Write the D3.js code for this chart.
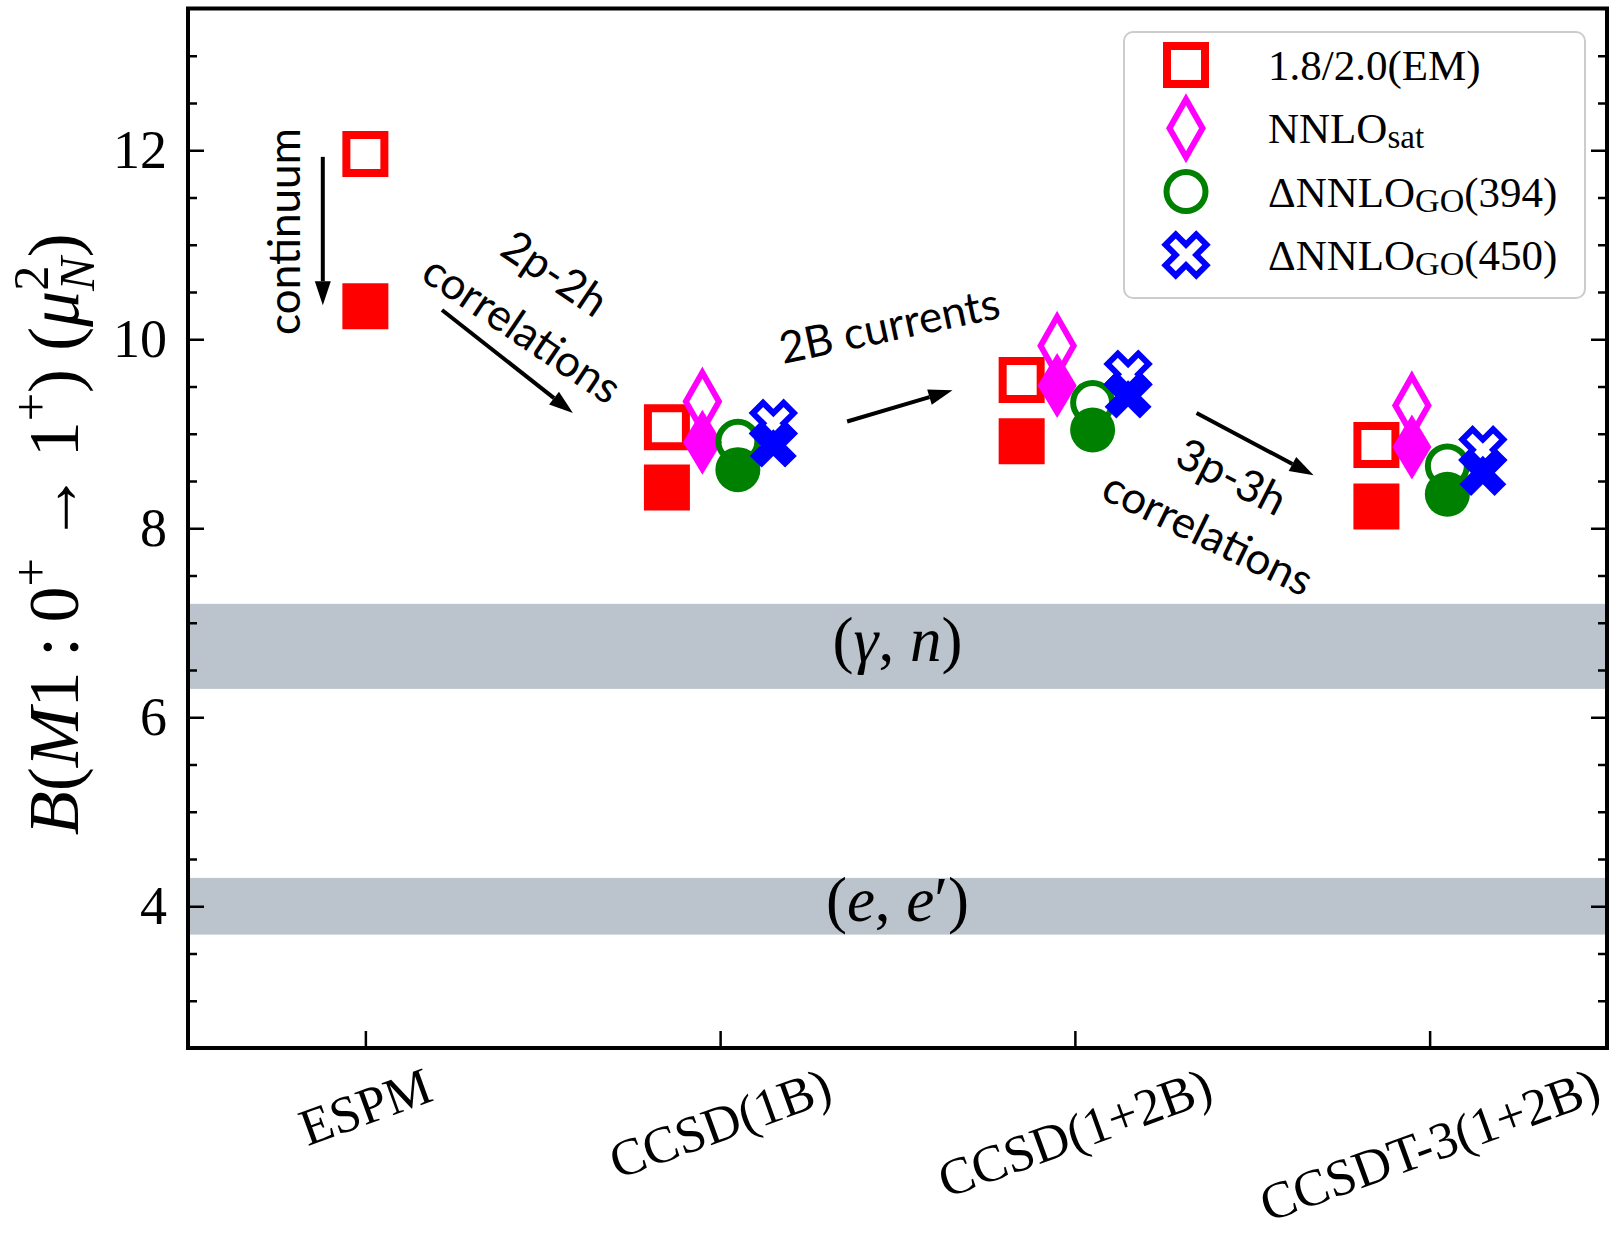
<!DOCTYPE html>
<html><head><meta charset="utf-8">
<script src="https://cdn.jsdelivr.net/npm/d3@7"></script>
<style>body{margin:0;background:#fff}</style>
</head><body>
<svg id="c" width="1619" height="1233" xmlns="http://www.w3.org/2000/svg"></svg>
<script>
// ---------------- data ----------------
const categories = ["ESPM", "CCSD(1B)", "CCSD(1+2B)", "CCSDT-3(1+2B)"];
const seriesKeys = ["em", "sat", "go394", "go450"];
const seriesColors = ["#ff0000", "#ff00ff", "#008000", "#0000ff"];
const seriesShapes = ["square", "diamond", "circle", "cross"];
// open / filled marker values per category (null = not computed)
const em_open      = [11.96, 9.07, 9.57, 8.88];
const em_filled    = [10.35, 8.43, 8.92, 8.23];
const sat_open     = [null, 9.34, 9.93, 9.30];
const sat_filled   = [null, 8.91, 9.51, 8.86];
const go394_open   = [null, 8.92, 9.33, 8.66];
const go394_filled = [null, 8.62, 9.04, 8.36];
const go450_open   = [null, 9.11, 9.63, 8.83];
const go450_filled = [null, 8.89, 9.41, 8.59];
const yTicks = [4, 6, 8, 10, 12];
const yMinorTicks = [3, 3.5, 4.5, 5, 5.5, 6.5, 7, 7.5, 8.5, 9, 9.5, 10.5, 11, 11.5, 12.5, 13];
const bandLo = [6.3, 3.7];
const bandHi = [7.2, 4.3];

const openVals = {em: em_open, sat: sat_open, go394: go394_open, go450: go450_open};
const filledVals = {em: em_filled, sat: sat_filled, go394: go394_filled, go450: go450_filled};

// ---------------- layout ----------------
const svg = d3.select("#c");
svg.append("rect").attr("width", 1619).attr("height", 1233).attr("fill", "#fff");
const L = 188, R = 1607, T = 8.5, B = 1048;
const x = d3.scaleLinear().domain([-0.5, 3.5]).range([L, R]);
const y = d3.scaleLinear().domain([2.5, 13.5]).range([B, T]);
const serif = "'Liberation Serif','Times New Roman',Times,serif";
const sans = "Lato,'Open Sans','Liberation Sans',sans-serif";

// bands
const bandG = svg.append("g");
bandLo.forEach((lo, i) => {
  bandG.append("rect").attr("x", L).attr("width", R - L)
    .attr("y", y(bandHi[i])).attr("height", y(lo) - y(bandHi[i]))
    .attr("fill", "#778899").attr("fill-opacity", 0.5);
});

function rich(sel, parts) {
  parts.forEach(p => {
    const t = sel.append("tspan").text(p.t);
    if (p.i) t.attr("font-style", "italic");
    if (p.fs) t.attr("font-size", p.fs);
    if (p.dy) t.attr("dy", p.dy);
    if (p.dx) t.attr("dx", p.dx);
  });
  return sel;
}

// band labels
const BF = 63;
rich(svg.append("text").attr("x", (L + R) / 2).attr("y", y((bandLo[0] + bandHi[0]) / 2))
  .attr("text-anchor", "middle").attr("dy", "0.24em").attr("font-family", serif).attr("font-size", BF),
  [{t: "("}, {t: "γ", i: 1}, {t: ", "}, {t: "n", i: 1}, {t: ")"}]);
rich(svg.append("text").attr("x", (L + R) / 2).attr("y", y((bandLo[1] + bandHi[1]) / 2))
  .attr("text-anchor", "middle").attr("dy", "0.24em").attr("font-family", serif).attr("font-size", BF),
  [{t: "("}, {t: "e", i: 1}, {t: ", "}, {t: "e", i: 1}, {t: "′"}, {t: ")"}]);

// ---------------- axes ----------------
const TF = 54;
const XF = 52;
const axL = svg.append("g").attr("transform", `translate(${L},0)`)
  .call(d3.axisLeft(y).tickValues(yTicks).tickSize(-16).tickPadding(21).tickFormat(d3.format("d")));
const axLm = svg.append("g").attr("transform", `translate(${L},0)`)
  .call(d3.axisLeft(y).tickValues(yMinorTicks).tickSize(-9).tickFormat(""));
const axR = svg.append("g").attr("transform", `translate(${R},0)`)
  .call(d3.axisRight(y).tickValues(yTicks).tickSize(-16).tickFormat(""));
const axRm = svg.append("g").attr("transform", `translate(${R},0)`)
  .call(d3.axisRight(y).tickValues(yMinorTicks).tickSize(-9).tickFormat(""));
const axB = svg.append("g").attr("transform", `translate(0,${B})`)
  .call(d3.axisBottom(x).tickValues(d3.range(categories.length)).tickSize(-17).tickFormat(""));
[axL, axLm, axR, axRm, axB].forEach(a => {
  a.select(".domain").remove();
  a.selectAll(".tick line").attr("stroke", "#000").attr("stroke-width", 2.5);
});
axL.selectAll(".tick text").attr("font-family", serif).attr("font-size", TF).attr("fill", "#000");

// frame
svg.append("rect").attr("x", L).attr("y", T).attr("width", R - L).attr("height", B - T)
  .attr("fill", "none").attr("stroke", "#000").attr("stroke-width", 4);

// x tick labels (rotated 20deg, bbox centred at tick, top at fixed pad)
const ang = 20 * Math.PI / 180;
categories.forEach((c, i) => {
  const t = svg.append("text").text(c).attr("font-family", serif).attr("font-size", XF)
    .attr("text-anchor", "middle").attr("dominant-baseline", "central");
  const bb = t.node().getBBox();
  const H = bb.width * Math.sin(ang) + bb.height * 0.8 * Math.cos(ang);
  t.attr("transform", `translate(${x(i)},${B + 14 + H / 2}) rotate(-20)`);
});

// y label
const YF = 72;
const yl = svg.append("text").attr("transform", `translate(78,${(T + B) / 2 + 6}) rotate(-90)`)
  .attr("text-anchor", "middle").attr("font-family", serif).attr("font-size", YF);
rich(yl, [
  {t: "B", i: 1}, {t: "("}, {t: "M", i: 1}, {t: "1\u2009:\u20090"},
  {t: "+", fs: YF * 0.7, dy: -YF * 0.42},
  {t: "\u2009→\u20091", dy: YF * 0.42},
  {t: "+", fs: YF * 0.7, dy: -YF * 0.42},
  {t: ") (", dy: YF * 0.42},
  {t: "μ", i: 1},
  {t: "2", fs: YF * 0.7, dy: -YF * 0.42},
  {t: "N", i: 1, fs: YF * 0.7, dy: YF * 0.64, dx: -YF * 0.35},
  {t: ")", dy: -YF * 0.22}
]);

// ---------------- markers ----------------
function shapePath(shape, filled) {
  const p = d3.path();
  if (shape === "square") {
    const h = filled ? 23 : 19;
    p.rect(-h, -h, 2 * h, 2 * h);
  } else if (shape === "diamond") {
    const w = filled ? 19.5 : 16.5, hh = filled ? 32.5 : 29;
    p.moveTo(0, -hh); p.lineTo(w, 0); p.lineTo(0, hh); p.lineTo(-w, 0); p.closePath();
  } else if (shape === "circle") {
    const r = filled ? 22.5 : 19.5;
    p.moveTo(r, 0); p.arc(0, 0, r, 0, 2 * Math.PI); p.closePath();
  } else if (shape === "cross") {
    const u = filled ? 8.3 : 7.25;
    const pts = [[-1, -3], [-1, -1], [-3, -1], [-3, 1], [-1, 1], [-1, 3], [1, 3], [1, 1], [3, 1], [3, -1], [1, -1], [1, -3]];
    const c = Math.cos(Math.PI / 4), s = Math.sin(Math.PI / 4);
    pts.forEach((q, k) => {
      const X = (q[0] * c - q[1] * s) * u, Y = (q[0] * s + q[1] * c) * u;
      if (k === 0) p.moveTo(X, Y); else p.lineTo(X, Y);
    });
    p.closePath();
  }
  return p.toString();
}
const strokeW = {square: 8, diamond: 6, circle: 6, cross: 6};

function drawMarker(g, shape, color, filled, cx, cy) {
  const m = g.append("path").attr("d", shapePath(shape, filled))
    .attr("transform", `translate(${cx},${cy})`);
  if (filled) m.attr("fill", color).attr("stroke", "none");
  else m.attr("fill", "none").attr("stroke", color).attr("stroke-width", strokeW[shape]).attr("stroke-linejoin", "miter");
}

const mk = svg.append("g");
seriesKeys.forEach((k, si) => {
  categories.forEach((c, ci) => {
    const present = seriesKeys.filter(kk => openVals[kk][ci] !== null).length;
    const off = present > 1 ? (si - (present - 1) / 2) * 0.1 : 0;
    const cx = x(ci + off);
    if (openVals[k][ci] !== null) drawMarker(mk, seriesShapes[si], seriesColors[si], false, cx, y(openVals[k][ci]));
    if (filledVals[k][ci] !== null) drawMarker(mk, seriesShapes[si], seriesColors[si], true, cx, y(filledVals[k][ci]));
  });
});

// ---------------- annotations ----------------
function arrow(x0, y0, x1, y1) {
  const X0 = x(x0), Y0 = y(y0), X1 = x(x1), Y1 = y(y1);
  const a = Math.atan2(Y1 - Y0, X1 - X0), hl = 24, hw = 8;
  const bx = X1 - hl * Math.cos(a), by = Y1 - hl * Math.sin(a);
  svg.append("line").attr("x1", X0).attr("y1", Y0).attr("x2", bx).attr("y2", by)
    .attr("stroke", "#000").attr("stroke-width", 4);
  svg.append("path").attr("d", `M${X1},${Y1}L${bx - hw * Math.sin(a)},${by + hw * Math.cos(a)}L${bx + hw * Math.sin(a)},${by - hw * Math.cos(a)}Z`)
    .attr("fill", "#000");
}
function note(txt, xd, yd, rot) {
  svg.append("text").text(txt).attr("font-family", sans).attr("font-size", 44)
    .attr("text-anchor", "middle").attr("dominant-baseline", "central")
    .attr("transform", `translate(${x(xd)},${y(yd)}) rotate(${rot})`);
}
arrow(-0.12, 11.93, -0.12, 10.36);
arrow(0.216, 10.31, 0.585, 9.22);
arrow(1.358, 9.13, 1.655, 9.46);
arrow(2.343, 9.22, 2.673, 8.56);
note("continuum", -0.233, 11.14, -90);
note("2p-2h", 0.537, 10.71, 34);
note("correlations", 0.444, 10.12, 34);
note("2B currents", 1.476, 10.16, -12);
note("3p-3h", 2.444, 8.56, 27);
note("correlations", 2.377, 7.96, 26);

// ---------------- legend ----------------
const lg = svg.append("g");
lg.append("rect").attr("x", 1124).attr("y", 32).attr("width", 461).attr("height", 266).attr("rx", 9)
  .attr("fill", "#fff").attr("fill-opacity", 0.8).attr("stroke", "#cccccc").attr("stroke-width", 2);
const LF = 43;
const legendParts = [
  [{t: "1.8/2.0(EM)"}],
  [{t: "NNLO"}, {t: "sat", fs: 33, dy: 5}],
  [{t: "ΔNNLO"}, {t: "GO", fs: 34, dy: 5}, {t: "(394)", dy: -5}],
  [{t: "ΔNNLO"}, {t: "GO", fs: 34, dy: 5}, {t: "(450)", dy: -5}]
];
seriesKeys.forEach((k, i) => {
  const cy = 65 + i * 63.3;
  drawMarker(lg, seriesShapes[i], seriesColors[i], false, 1186, cy);
  rich(lg.append("text").attr("x", 1268).attr("y", cy + 15).attr("font-family", serif).attr("font-size", LF), legendParts[i]);
});
</script>
</body></html>
